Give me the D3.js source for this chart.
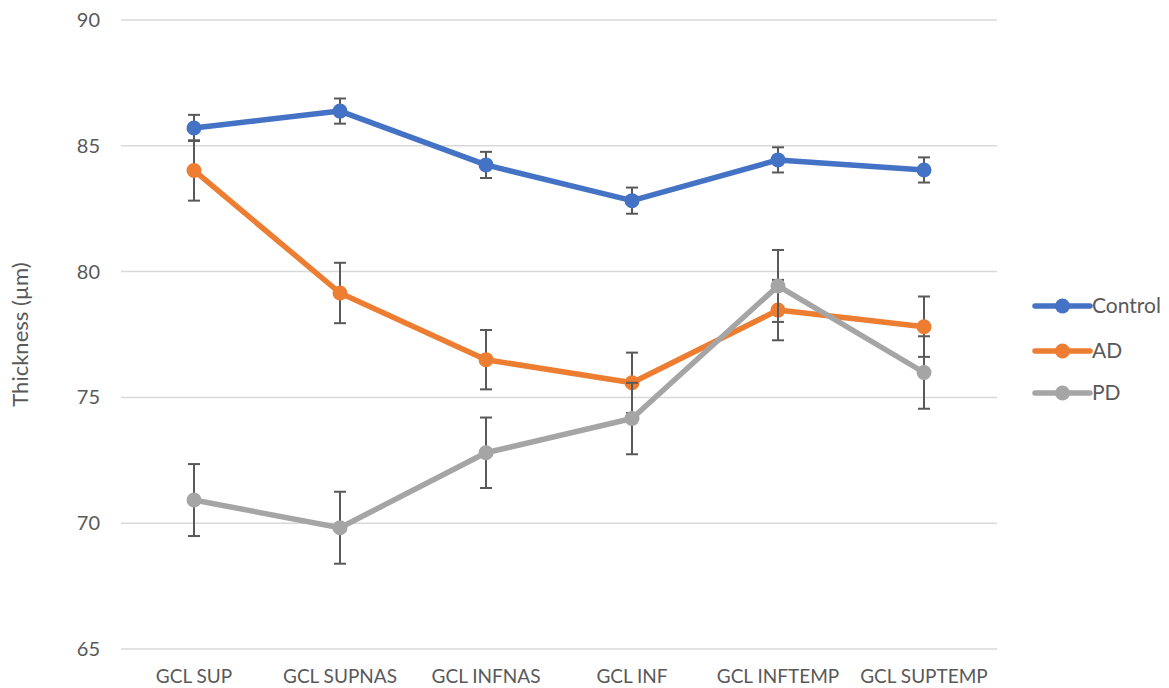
<!DOCTYPE html>
<html>
<head>
<meta charset="utf-8">
<script src="https://d3js.org/d3.v7.min.js"></script>
<style>
  body { margin: 0; background: #fff; }
  text { font-family: Lato, "Open Sans", sans-serif; fill: #595959; }
</style>
</head>
<body>
<svg id="chart" width="1169" height="688"></svg>
<script>
// data
var categories = ["GCL SUP", "GCL SUPNAS", "GCL INFNAS", "GCL INF", "GCL INFTEMP", "GCL SUPTEMP"];
var seriesNames = ["Control", "AD", "PD"];
var controlVals = [85.71, 86.38, 84.24, 82.82, 84.44, 84.04];
var controlErr  = [0.52, 0.50, 0.52, 0.52, 0.50, 0.50];
var adVals = [84.02, 79.15, 76.50, 75.58, 78.47, 77.81];
var adErr  = [1.20, 1.20, 1.18, 1.20, 1.20, 1.20];
var pdVals = [70.92, 69.82, 72.80, 74.16, 79.43, 75.99];
var pdErr  = [1.43, 1.43, 1.40, 1.42, 1.43, 1.44];
var yTicks = [65, 70, 75, 80, 85, 90];
var colors = ["#4472c4", "#ed7d31", "#a5a5a5"];

var series = [
  {name: seriesNames[0], vals: controlVals, err: controlErr, color: colors[0]},
  {name: seriesNames[1], vals: adVals, err: adErr, color: colors[1]},
  {name: seriesNames[2], vals: pdVals, err: pdErr, color: colors[2]}
];

var svg = d3.select("#chart");
var pLeft = 121, pRight = 997, pTop = 20, pBottom = 649;

var x = d3.scaleBand().domain(categories).range([pLeft, pRight]);
var y = d3.scaleLinear().domain([65, 90]).range([pBottom, pTop]);

// gridlines
svg.append("g").selectAll("line")
  .data(yTicks).enter().append("line")
  .attr("x1", pLeft).attr("x2", pRight)
  .attr("y1", function(d){ return y(d); })
  .attr("y2", function(d){ return y(d); })
  .attr("stroke", "#d9d9d9").attr("stroke-width", 1.5);

// y axis labels
var yAxis = d3.axisLeft(y).tickValues(yTicks).tickSize(0).tickPadding(0);
var gy = svg.append("g").attr("transform", "translate(" + (pLeft - 21) + ",0)").call(yAxis);
gy.select(".domain").remove();
gy.selectAll("text").attr("font-size", 20).style("fill", "#595959")
  .attr("font-family", "Lato, 'Open Sans', sans-serif");

// x axis labels
var xAxis = d3.axisBottom(x).tickSize(0).tickPadding(0);
var gx = svg.append("g").attr("transform", "translate(0," + (pBottom + 20) + ")").call(xAxis);
gx.select(".domain").remove();
gx.selectAll("text").attr("font-size", 19).style("fill", "#595959")
  .attr("font-family", "Lato, 'Open Sans', sans-serif");

// y title
svg.append("text")
  .attr("transform", "translate(28," + ((pTop + pBottom) / 2) + ") rotate(-90)")
  .attr("text-anchor", "middle")
  .attr("font-size", 22)
  .text("Thickness (µm)");

var cx = function(i){ return x(categories[i]) + x.bandwidth() / 2; };

var line = d3.line()
  .x(function(d, i){ return cx(i); })
  .y(function(d){ return y(d); });

series.forEach(function(s){
  var g = svg.append("g");
  g.append("path")
    .attr("d", line(s.vals))
    .attr("fill", "none")
    .attr("stroke", s.color)
    .attr("stroke-width", 5.5)
    .attr("stroke-linejoin", "round");

  // error bars
  var eb = g.selectAll(".eb").data(s.vals).enter().append("g");
  eb.append("line")
    .attr("x1", function(d, i){ return cx(i); })
    .attr("x2", function(d, i){ return cx(i); })
    .attr("y1", function(d, i){ return y(d + s.err[i]); })
    .attr("y2", function(d, i){ return y(d - s.err[i]); })
    .attr("stroke", "#595959").attr("stroke-width", 2);
  eb.append("line")
    .attr("x1", function(d, i){ return cx(i) - 6; })
    .attr("x2", function(d, i){ return cx(i) + 6; })
    .attr("y1", function(d, i){ return y(d + s.err[i]); })
    .attr("y2", function(d, i){ return y(d + s.err[i]); })
    .attr("stroke", "#595959").attr("stroke-width", 2);
  eb.append("line")
    .attr("x1", function(d, i){ return cx(i) - 6; })
    .attr("x2", function(d, i){ return cx(i) + 6; })
    .attr("y1", function(d, i){ return y(d - s.err[i]); })
    .attr("y2", function(d, i){ return y(d - s.err[i]); })
    .attr("stroke", "#595959").attr("stroke-width", 2);

  g.selectAll("circle").data(s.vals).enter().append("circle")
    .attr("cx", function(d, i){ return cx(i); })
    .attr("cy", function(d){ return y(d); })
    .attr("r", 7.5)
    .attr("fill", s.color);
});

// legend
var legY = [306, 351, 393];
var lg = svg.append("g").selectAll("g").data(series).enter().append("g")
  .attr("transform", function(d, i){ return "translate(1035," + legY[i] + ")"; });
lg.append("line").attr("x1", 0).attr("x2", 55).attr("y1", 0).attr("y2", 0)
  .attr("stroke", function(d){ return d.color; }).attr("stroke-width", 5.5)
  .attr("stroke-linecap", "round");
lg.append("circle").attr("cx", 27.5).attr("cy", 0).attr("r", 7.5)
  .attr("fill", function(d){ return d.color; });
lg.append("text").attr("x", 57).attr("y", 0).attr("dy", "0.35em")
  .attr("font-size", 21)
  .text(function(d){ return d.name; });
</script>
</body>
</html>
